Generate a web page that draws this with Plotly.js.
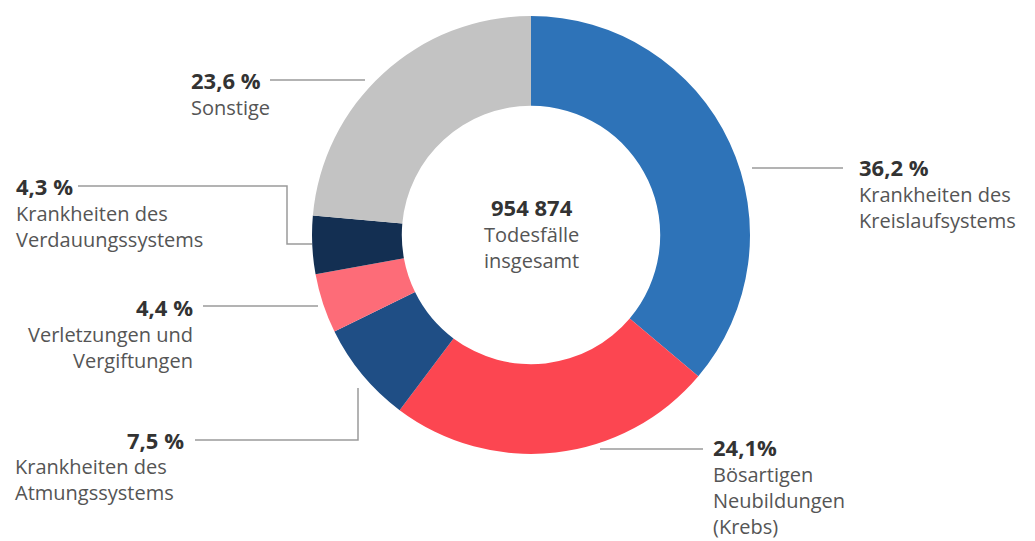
<!DOCTYPE html>
<html>
<head>
<meta charset="utf-8">
<script src="https://cdn.plot.ly/plotly-3.0.1.min.js"></script>
<style>html,body{margin:0;padding:0;background:#fff;}#chart{width:1035px;height:541px;}</style>
</head>
<body>
<div id="chart"></div>
<script>
// Data
var categories = [
  "Krankheiten des Kreislaufsystems",
  "Bösartigen Neubildungen (Krebs)",
  "Krankheiten des Atmungssystems",
  "Verletzungen und Vergiftungen",
  "Krankheiten des Verdauungssystems",
  "Sonstige"
];
var values = [36.2, 24.1, 7.5, 4.4, 4.3, 23.6];
var percentLabels = ["36,2 %", "24,1%", "7,5 %", "4,4 %", "4,3 %", "23,6 %"];
var nameLines = [
  ["Krankheiten des", "Kreislaufsystems"],
  ["Bösartigen", "Neubildungen", "(Krebs)"],
  ["Krankheiten des", "Atmungssystems"],
  ["Verletzungen und", "Vergiftungen"],
  ["Krankheiten des", "Verdauungssystems"],
  ["Sonstige"]
];
var colors = ["#2e73b8", "#fc4651", "#1f4e85", "#fd6c78", "#132f52", "#c3c3c3"];
var totalLabel = "954 874";
var centerLines = ["Todesfälle", "insgesamt"];

var W = 1035, H = 541;
function px(x){ return x / W; }
function py(y){ return 1 - y / H; }

// pie geometry
var cx = 531, cy = 235, R = 219;

var FONT = "Open Sans";
var labelColor = "#555555";
var pctColor = "#333333";
var fs = 20;
var lineH = 26;
var half = 16;

// label layout
var labelPos = [
  {x: 858, y: 167, a: "left", sep: false},
  {x: 712, y: 447, a: "left", sep: false},
  {x: 185, y: 440, a: "right", sep: true, nx: 14, na: "left"},
  {x: 194, y: 307, a: "right", sep: false},
  {x: 15, y: 186, a: "left", sep: false},
  {x: 190, y: 80, a: "left", sep: false}
];
// leader line paths (pixel)
var leaders = [
  [[752,168],[843,168]],
  [[600,449],[703,449]],
  [[195,440],[358,440],[358,388]],
  [[203,306],[318,306]],
  [[78,186],[287,186],[287,244],[312,244]],
  [[270,80],[365,80]]
];

function boldPct(t){
  return "<b><span style='color:" + pctColor + ";font-size:22px'>" + t + "</span></b>";
}

var annotations = [];
for (var i = 0; i < categories.length; i++) {
  var p = labelPos[i];
  var pct = boldPct(percentLabels[i]);
  if (!p.sep) {
    annotations.push({
      x: px(p.x), y: py(p.y - half), xref: "paper", yref: "paper",
      xanchor: p.a, yanchor: "top", showarrow: false, align: p.a, borderpad: 0,
      text: pct + "<br>" + nameLines[i].join("<br>"),
      font: {family: FONT, size: fs, color: labelColor}
    });
  } else {
    annotations.push({
      x: px(p.x), y: py(p.y - half), xref: "paper", yref: "paper",
      xanchor: p.a, yanchor: "top", showarrow: false, align: p.a, borderpad: 0,
      text: pct,
      font: {family: FONT, size: fs, color: labelColor}
    });
    annotations.push({
      x: px(p.nx), y: py(p.y - 14 + lineH), xref: "paper", yref: "paper",
      xanchor: p.na, yanchor: "top", showarrow: false, align: p.na, borderpad: 0,
      text: nameLines[i].join("<br>"),
      font: {family: FONT, size: fs, color: labelColor}
    });
  }
}
annotations.push({
  x: px(cx), y: py(207 - half), xref: "paper", yref: "paper", xanchor: "center", yanchor: "top",
  showarrow: false, align: "center", borderpad: 0,
  text: boldPct(totalLabel) + "<br>" + centerLines.join("<br>"),
  font: {family: FONT, size: fs, color: labelColor}
});

var shapes = leaders.map(function(pts){
  var d = pts.map(function(pt, k){ return (k ? "L" : "M") + px(pt[0]) + "," + py(pt[1]); }).join(" ");
  return {type: "path", xref: "paper", yref: "paper", path: d, line: {color: "#9a9a9a", width: 1.5}};
});

var trace = {
  type: "pie",
  labels: categories,
  values: values,
  sort: false,
  direction: "clockwise",
  rotation: 0,
  hole: 0.59,
  textinfo: "none",
  hoverinfo: "label+percent",
  marker: {colors: colors, line: {width: 0}},
  domain: {x: [px(cx - R), px(cx + R)], y: [py(cy + R), py(cy - R)]},
  showlegend: false
};

Plotly.newPlot("chart", [trace], {
  width: W, height: H,
  margin: {l: 0, r: 0, t: 0, b: 0},
  paper_bgcolor: "#fff",
  showlegend: false,
  annotations: annotations,
  shapes: shapes
}, {displayModeBar: false, staticPlot: true});
</script>
</body>
</html>
